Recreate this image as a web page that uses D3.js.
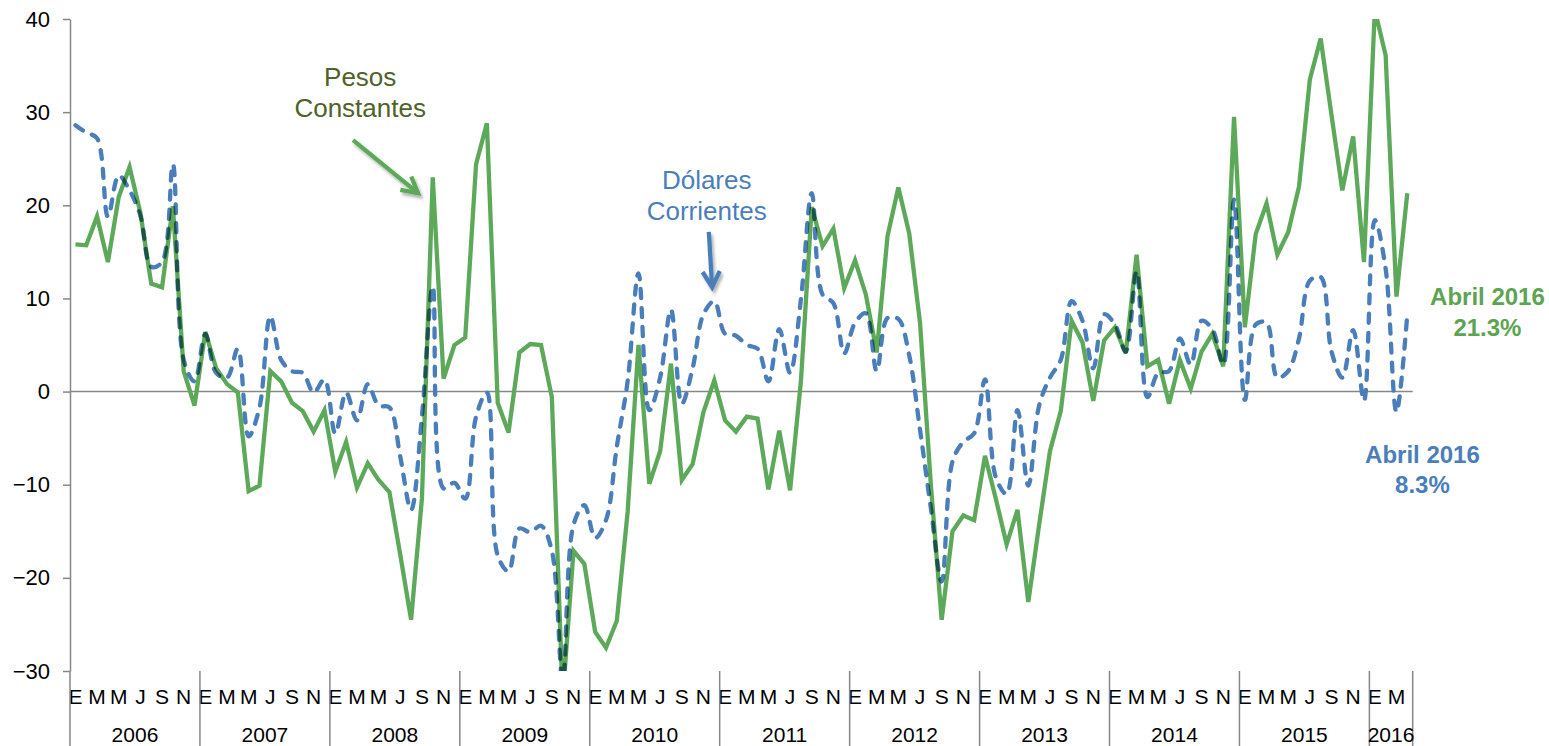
<!DOCTYPE html>
<html>
<head>
<meta charset="utf-8">
<script src="https://cdn.jsdelivr.net/npm/d3@7"></script>
<style>
  body { margin: 0; background: #fff; }
  svg { display: block; font-family: "Liberation Sans", Arial, sans-serif; }
</style>
</head>
<body>
<div id="chart"></div>
<script>
// years and how many months each one has in the chart
let years = ["2006", "2007", "2008", "2009", "2010", "2011", "2012", "2013", "2014", "2015", "2016"];
let monthsPerYear = [12, 12, 12, 12, 12, 12, 12, 12, 12, 12, 4];
let monthLetters = ["E", "F", "M", "A", "M", "J", "J", "A", "S", "O", "N", "D"];
let yTicks = [-30, -20, -10, 0, 10, 20, 30, 40];

// Pesos Constantes (% change)
let pesos = [
  15.8, 15.7, 18.8, 13.9, 20.9, 24.1, 19.2, 11.6, 11.2, 19.9, 2.2, -1.5,
  6.4, 2.5, 0.8, -0.1, -10.7, -10.1, 2.2, 1.1, -1.2, -2.1, -4.3, -2.0,
  -8.6, -5.4, -10.3, -7.7, -9.5, -10.8, -17.5, -24.5, -11.5, 23.0, 1.4, 5.0,
  5.8, 24.4, 28.8, -1.2, -4.4, 4.2, 5.1, 5.0, -0.6, -33.0, -17.1, -18.5,
  -25.8, -27.5, -24.6, -12.9, 5.0, -9.9, -6.4, 3.0, -9.5, -7.8, -2.2, 1.2,
  -3.1, -4.3, -2.7, -2.9, -10.5, -4.2, -10.6, 1.1, 19.8, 15.6, 17.5, 11.1,
  14.1, 10.4, 4.2, 16.7, 21.9, 17.0, 7.4, -10.0, -24.5, -15.0, -13.3, -13.8,
  -6.9, -11.5, -16.4, -12.7, -22.6, -14.3, -6.4, -2.1, 7.6, 5.3, -1.0, 5.5,
  6.9, 4.1, 14.7, 2.7, 3.4, -1.3, 3.4, 0.3, 4.3, 6.2, 2.7, 29.5,
  6.9, 16.9, 20.2, 14.7, 17.1, 22.0, 33.5, 37.9, 29.7, 21.6, 27.4, 13.9,
  41.0, 36.1, 10.2, 21.3
];

// Dólares Corrientes (% change)
let dolares = [
  28.6, 27.8, 27.2, 18.8, 23.2, 21.6, 18.9, 13.4, 13.9, 24.4, 3.4, 1.1,
  6.2, 2.0, 1.5, 4.6, -4.8, -1.7, 8.1, 3.4, 2.2, 2.0, -0.1, 1.3,
  -4.5, -0.1, -3.1, 0.8, -1.5, -1.7, -7.0, -12.7, -2.7, 11.3, -10.4, -9.8,
  -11.5, -2.7, -0.1, -17.6, -19.3, -14.7, -15.1, -14.4, -17.1, -31.0, -14.3, -12.2,
  -15.7, -13.8, -5.9, 1.1, 12.7, -2.0, 1.5, 8.8, -1.3, 2.5, 8.3, 9.7,
  6.2, 6.0, 5.0, 4.6, 1.1, 6.7, 2.0, 9.9, 21.3, 10.4, 9.5, 4.1,
  7.4, 8.4, 2.2, 7.9, 7.8, 3.9, -4.1, -12.5, -20.4, -7.5, -5.4, -4.5,
  1.3, -9.2, -11.0, -2.0, -10.1, -1.5, 1.5, 3.4, 9.7, 7.6, 2.5, 8.3,
  7.2, 4.3, 12.9, -0.6, 2.0, 2.2, 5.7, 2.9, 7.6, 6.7, 2.9, 20.6,
  -0.9, 7.2, 7.4, 1.5, 2.2, 5.7, 11.9, 12.3, 4.3, 1.5, 6.6, -1.0,
  18.4, 13.2, -2.2, 8.3
];

let draw = () => {
  let width = 1549;
  let height = 746;
  let margin = { left: 70, right: 136.3, top: 19, bottom: 75 };
  let green = "#5da95a";
  let blue = "#4a7ebb";
  let axisGrey = "#878787";

  // month categories built from the year table
  let cats = [];
  years.forEach((yr, k) => {
    d3.range(monthsPerYear[k]).forEach((m) => cats.push({ year: yr, m: m }));
  });
  let idx = d3.range(cats.length);

  let svg = d3
    .select("#chart")
    .append("svg")
    .attr("width", width)
    .attr("height", height);

  let x = d3
    .scaleBand()
    .domain(idx)
    .range([margin.left, width - margin.right])
    .padding(0);
  let xc = (i) => margin.left + (i + 0.5) * x.bandwidth();

  let y = d3
    .scaleLinear()
    .domain([-30, 40])
    .range([height - margin.bottom, margin.top]);

  let defs = svg.append("defs");
  defs
    .append("clipPath")
    .attr("id", "plot")
    .append("rect")
    .attr("x", margin.left)
    .attr("y", margin.top)
    .attr("width", width - margin.right - margin.left)
    .attr("height", height - margin.bottom - margin.top);
  defs
    .append("filter")
    .attr("id", "shadow")
    .attr("x", "-20%").attr("y", "-20%").attr("width", "140%").attr("height", "140%")
    .append("feDropShadow")
    .attr("dx", 2).attr("dy", 3).attr("stdDeviation", 1.8)
    .attr("flood-color", "#000").attr("flood-opacity", 0.3);

  // y axis
  svg
    .append("g")
    .attr("transform", `translate(${margin.left},0)`)
    .call(d3.axisLeft(y).tickValues(yTicks).tickSize(7).tickSizeOuter(0).tickPadding(13))
    .call((g) => g.select(".domain").attr("stroke", axisGrey).attr("stroke-width", 1.5))
    .call((g) => g.selectAll(".tick line").attr("stroke", axisGrey).attr("stroke-width", 1.5))
    .call((g) =>
      g.selectAll(".tick text")
        .attr("font-size", 22)
        .attr("fill", "#000")
        .attr("font-family", "Liberation Sans, Arial, sans-serif")
    );

  // zero line
  svg
    .append("line")
    .attr("x1", margin.left)
    .attr("x2", width - margin.right)
    .attr("y1", y(0))
    .attr("y2", y(0))
    .attr("stroke", axisGrey)
    .attr("stroke-width", 1.5);

  // month letters
  svg
    .append("g")
    .attr("transform", `translate(0,${height - margin.bottom})`)
    .call(
      d3.axisBottom(x)
        .tickValues(idx.filter((i) => cats[i].m % 2 === 0))
        .tickFormat((i) => monthLetters[cats[i].m])
        .tickSize(0)
        .tickPadding(18)
    )
    .call((g) => g.select(".domain").remove())
    .call((g) =>
      g.selectAll(".tick text")
        .attr("font-size", 21)
        .attr("fill", "#000")
        .attr("font-family", "Liberation Sans, Arial, sans-serif")
    );

  // year groups
  let starts = [0];
  monthsPerYear.forEach((n, k) => starts.push(starts[k] + n));
  svg
    .append("g")
    .selectAll("line")
    .data(starts)
    .enter()
    .append("line")
    .attr("x1", (s) => margin.left + s * x.bandwidth())
    .attr("x2", (s) => margin.left + s * x.bandwidth())
    .attr("y1", y(-30))
    .attr("y2", height)
    .attr("stroke", axisGrey)
    .attr("stroke-width", 1.5);

  svg
    .append("g")
    .selectAll("text")
    .data(years)
    .enter()
    .append("text")
    .attr("x", (d, k) => margin.left + ((starts[k] + starts[k + 1]) / 2) * x.bandwidth())
    .attr("y", 742)
    .attr("text-anchor", "middle")
    .attr("font-size", 21)
    .text((d) => d);

  // lines
  let line = d3
    .line()
    .x((d, i) => xc(i))
    .y((d) => y(d));

  let plot = svg.append("g").attr("clip-path", "url(#plot)");
  plot
    .append("path")
    .datum(pesos)
    .attr("d", line)
    .attr("fill", "none")
    .attr("stroke", green)
    .attr("stroke-width", 4.3)
    .attr("stroke-linejoin", "miter");
  plot
    .append("path")
    .datum(dolares)
    .attr("d", line.curve(d3.curveCatmullRom.alpha(0.5)))
    .attr("fill", "none")
    .attr("stroke", blue)
    .attr("stroke-width", 4.3)
    .attr("stroke-dasharray", "9,10")
    .attr("stroke-linecap", "round")
    .style("mix-blend-mode", "multiply");

  // annotations, placed in data space (month index, value)
  let notes = [
    { lines: ["Pesos", "Constantes"], i: 26.3, v: [33.8, 30.5], color: "#4f6228", size: 26, weight: "normal" },
    { lines: ["Dólares", "Corrientes"], i: 58.3, v: [22.7, 19.4], color: blue, size: 26, weight: "normal" },
    { lines: ["Abril 2016", "21.3%"], i: 130.4, v: [10.2, 6.9], color: "#5ba552", size: 24, weight: "bold" },
    { lines: ["Abril 2016", "8.3%"], i: 124.4, v: [-6.7, -10.0], color: blue, size: 24, weight: "bold" },
  ];
  notes.forEach((n) => {
    n.lines.forEach((t, k) => {
      svg
        .append("text")
        .attr("x", xc(n.i))
        .attr("y", y(n.v[k]))
        .attr("dy", "0.36em")
        .attr("text-anchor", "middle")
        .attr("font-size", n.size)
        .attr("font-weight", n.weight)
        .attr("fill", n.color)
        .text(t);
    });
  });

  let arrows = [
    { from: [25.64, 27.0], to: [31.64, 21.3], color: green },
    { from: [58.5, 17.15], to: [58.8, 11.2], color: blue },
  ];
  arrows.forEach((a) => {
    let x1 = xc(a.from[0]), y1 = y(a.from[1]);
    let x2 = xc(a.to[0]), y2 = y(a.to[1]);
    let ang = Math.atan2(y2 - y1, x2 - x1);
    let len = 18;
    let head = [
      [x2 - len * Math.cos(ang - 0.5), y2 - len * Math.sin(ang - 0.5)],
      [x2, y2],
      [x2 - len * Math.cos(ang + 0.5), y2 - len * Math.sin(ang + 0.5)],
    ];
    let g = svg.append("g").attr("filter", "url(#shadow)");
    g.append("line")
      .attr("x1", x1).attr("y1", y1).attr("x2", x2).attr("y2", y2)
      .attr("stroke", a.color).attr("stroke-width", 4.3);
    g.append("path")
      .attr("d", d3.line()(head))
      .attr("fill", "none")
      .attr("stroke", a.color)
      .attr("stroke-width", 4.3)
      .attr("stroke-linejoin", "miter");
  });
};

draw();
</script>
</body>
</html>
